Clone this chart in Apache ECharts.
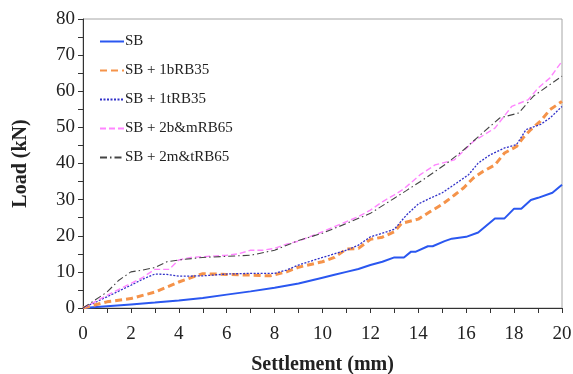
<!DOCTYPE html>
<html>
<head>
<meta charset="utf-8">
<style>
  html, body { margin: 0; padding: 0; background: #fff; }
  #chart { width: 573px; height: 374px; }
</style>
<script src="https://cdn.jsdelivr.net/npm/echarts@6/dist/echarts.min.js"></script>
</head>
<body>
<div id="chart"></div>
<script>
// values (settlement mm -> load kN)
var sbX = [0, 1, 2, 3, 4, 5, 6, 7, 8, 9, 10, 10.5, 11, 11.5, 12, 12.5, 13, 13.4, 13.7, 13.9, 14.4, 14.6, 15.1, 15.4, 16, 16.5, 17.2, 17.6, 18, 18.3, 18.7, 19, 19.6, 20];
var sbY = [0, 0.5, 1, 1.5, 2.1, 2.8, 3.7, 4.6, 5.6, 6.8, 8.4, 9.2, 10.0, 10.8, 11.9, 12.8, 14, 14, 15.6, 15.6, 17.1, 17.1, 18.5, 19.2, 19.7, 20.9, 24.8, 24.8, 27.5, 27.5, 29.9, 30.5, 31.9, 34.1];

var b35X = [0, 1, 2, 3, 4, 4.6, 5, 6, 7, 7.8, 8.5, 9, 10, 10.5, 11, 11.5, 12, 12.5, 13, 13.3, 14, 14.5, 15, 15.5, 15.9, 16.3, 16.7, 17.2, 17.6, 18.1, 18.4, 18.7, 19.1, 19.5, 20];
var b35Y = [0, 1.7, 2.6, 4.4, 7.2, 8.6, 9.5, 9.3, 9.1, 8.9, 10, 11.3, 12.8, 14, 16.3, 16.5, 19, 19.6, 21.1, 23.4, 24.6, 26.7, 28.7, 31.2, 33.3, 36, 37.8, 39.6, 42.9, 44.7, 47.3, 49.4, 51.7, 54.9, 57.2];

var t35X = [0, 1, 2, 2.5, 3, 3.5, 4, 5, 6, 7, 8, 8.5, 9, 10, 11, 11.5, 12, 12.5, 13, 13.5, 14, 14.5, 15, 15.6, 16.1, 16.5, 17, 17.6, 18.1, 18.5, 19.1, 19.5, 20];
var t35Y = [0, 3.1, 6.3, 8, 9.4, 9.3, 8.8, 8.9, 9.4, 9.6, 9.6, 10.5, 11.9, 14, 16, 17.4, 19.7, 20.7, 21.8, 25.7, 28.8, 30.4, 31.9, 34.6, 36.9, 40.1, 42.4, 44.3, 45.2, 49.4, 50.8, 52.6, 55.8];

var bm65X = [0, 1, 2, 2.5, 3, 3.6, 4, 4.5, 5, 6, 6.5, 7, 7.5, 8, 8.5, 9, 10, 11, 11.5, 12, 12.5, 13, 13.4, 14.1, 14.7, 15.5, 16.3, 17.2, 17.9, 18.6, 19, 19.5, 20];
var bm65Y = [0, 3.5, 6.8, 8.5, 10.7, 10.7, 13.3, 14, 14.2, 14.6, 15, 16, 16, 16.5, 17.7, 18.5, 21.1, 23.9, 25.3, 27.1, 29.4, 31.3, 33, 37, 39.6, 41, 46.1, 49.8, 55.8, 57.7, 60.9, 63.7, 68.3];

var mt65X = [0, 1, 1.5, 2, 2.5, 3, 3.5, 4, 5, 6, 7, 8, 9, 10, 11, 12, 13, 13.5, 14.2, 15.2, 15.9, 16.6, 17.4, 18.2, 18.8, 19.4, 20];
var mt65Y = [0, 4.4, 7.7, 10, 10.5, 11.2, 12.8, 13.3, 14, 14.3, 14.6, 16, 18.7, 20.7, 23.4, 26.2, 30.4, 32.5, 35.5, 40.1, 43.8, 48, 52.6, 54, 58.6, 61.4, 64.2];

var seriesNames = ['SB', 'SB + 1bRB35', 'SB + 1tRB35', 'SB + 2b&mRB65', 'SB + 2m&tRB65'];

function pairs(xs, ys) {
  return xs.map(function (x, i) { return [x, ys[i]]; });
}

var chart = echarts.init(document.getElementById('chart'));
var serif = '"Liberation Serif", "Times New Roman", serif';

var option = {
  animation: false,
  grid: {
    left: 83, right: 11, top: 19, bottom: 66,
    outerBoundsMode: 'none',
    show: true, borderColor: '#a6a6a6', borderWidth: 1
  },
  legend: {
    orient: 'vertical',
    left: 94, top: 29,
    itemGap: 14,
    itemWidth: 24, itemHeight: 14,
    itemStyle: { opacity: 0 },
    textStyle: { fontFamily: serif, fontSize: 15, color: '#222', padding: [0, 0, 0, -4] },
    data: seriesNames
  },
  xAxis: {
    type: 'value',
    min: 0, max: 20, interval: 2,
    name: 'Settlement (mm)',
    nameLocation: 'middle',
    nameGap: 47,
    nameTextStyle: { fontFamily: serif, fontSize: 20, fontWeight: 'bold', color: '#222' },
    axisLine: { lineStyle: { color: '#333', width: 1 } },
    axisTick: { show: true, length: 5, lineStyle: { color: '#333' } },
    minorTick: { show: true, splitNumber: 2, length: 5, lineStyle: { color: '#333' } },
    axisLabel: { fontFamily: serif, fontSize: 19, color: '#222', margin: 17 },
    splitLine: { show: false }
  },
  yAxis: {
    type: 'value',
    min: 0, max: 80, interval: 10,
    name: 'Load (kN)',
    nameLocation: 'middle',
    nameGap: 52,
    nameTextStyle: { fontFamily: serif, fontSize: 20, fontWeight: 'bold', color: '#222' },
    axisLine: { show: true, lineStyle: { color: '#333', width: 1 } },
    axisTick: { show: true, length: 5, lineStyle: { color: '#333' } },
    minorTick: { show: true, splitNumber: 2, length: 5, lineStyle: { color: '#333' } },
    axisLabel: { fontFamily: serif, fontSize: 19, color: '#222', margin: 8 },
    splitLine: { show: false }
  },
  series: [
    {
      name: seriesNames[0], type: 'line', symbol: 'none',
      data: pairs(sbX, sbY),
      lineStyle: { color: '#2a57f0', width: 2, type: 'solid' },
      itemStyle: { color: '#2a57f0' }
    },
    {
      name: seriesNames[1], type: 'line', symbol: 'none',
      data: pairs(b35X, b35Y),
      lineStyle: { color: '#f5934a', width: 3, type: [7, 4] },
      itemStyle: { color: '#f5934a' }
    },
    {
      name: seriesNames[2], type: 'line', symbol: 'none',
      data: pairs(t35X, t35Y),
      lineStyle: { color: '#3030c8', width: 1.3, type: [2, 1.5] },
      itemStyle: { color: '#3030c8' }
    },
    {
      name: seriesNames[3], type: 'line', symbol: 'none',
      data: pairs(bm65X, bm65Y),
      lineStyle: { color: '#ff85ff', width: 1.4, type: [6, 3] },
      itemStyle: { color: '#ff85ff' }
    },
    {
      name: seriesNames[4], type: 'line', symbol: 'none',
      data: pairs(mt65X, mt65Y),
      lineStyle: { color: '#444444', width: 1.1, type: [7, 3, 1.5, 3] },
      itemStyle: { color: '#444444' }
    }
  ]
};

chart.setOption(option);
</script>
</body>
</html>
